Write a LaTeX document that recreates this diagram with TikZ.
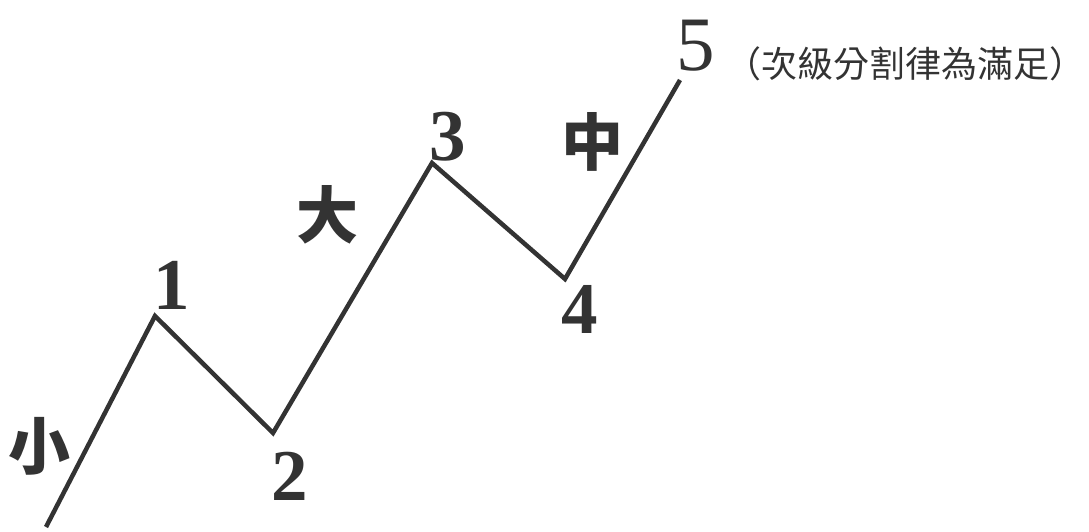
\documentclass[tikz,border=0pt]{standalone}
\usepackage{fontspec}
\setmainfont{Liberation Serif}
\newfontfamily\cjk{Noto Sans CJK TC}
\usetikzlibrary{positioning}
\definecolor{ink}{HTML}{333333}
\tikzset{
    wave/.style={draw=ink, line width=4.5pt, line join=miter},
    num/.style={text=ink, inner sep=0pt, font=\fontsize{73}{73}\selectfont\bfseries},
    numthin/.style={text=ink, inner sep=0pt, font=\fontsize{77}{77}\selectfont},
    deg/.style={text=ink, inner sep=0pt, font=\cjk\fontsize{62}{62}\selectfont\bfseries},
    note/.style={text=ink, inner sep=0pt, font=\cjk\fontsize{36}{36}\selectfont}
}
\begin{document}
\begin{tikzpicture}[x=1pt, y=-1pt]
    \useasboundingbox (0,0) rectangle (1089,532);

    \coordinate (p0) at (46,527);
    \coordinate (p1) at (155,316);
    \coordinate (p2) at (273,433);
    \coordinate (p3) at (432,163);
    \coordinate (p4) at (565,279);
    \coordinate (p5) at (680,80);

    \node[num] (n1) at (172,285) {1};
    \node[num] (n2) at (290,476) {2};
    \node[num] (n3) at (448,137) {3};
    \node[num] (n4) at (580,309) {4};
    \node[numthin] (n5) at (696,46) {5};

    \node[deg] (small) at (40,446) {小};
    \node[deg] (large) at (327,215) {大};
    \node[deg] (mid) at (592,142) {中};
    \node[note] (rule) at (905,64) {（次級分割律為滿足）};

    \draw[wave] (p0) -- (p1) -- (p2) -- (p3) -- (p4) -- (p5);
\end{tikzpicture}
\end{document}
